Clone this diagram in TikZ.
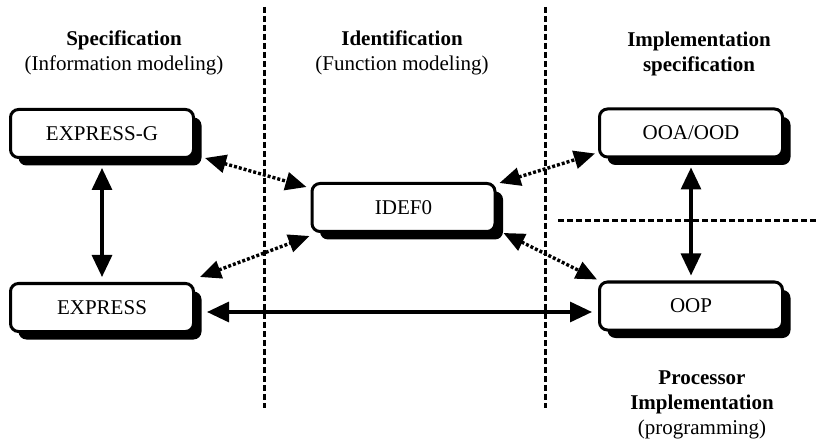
\documentclass[tikz,border=0pt]{standalone}
\usepackage{fontspec}
\setmainfont{Liberation Serif}
\usetikzlibrary{arrows.meta,shadows}
\begin{document}
\begin{tikzpicture}[x=1pt,y=-1pt,
  box/.style={draw, line width=3pt, rounded corners=8pt, fill=white,
    minimum width=183pt, minimum height=48pt, inner sep=0pt,
    font=\fontsize{21}{25}\selectfont,
    drop shadow={shadow xshift=8pt, shadow yshift=-8pt, opacity=1, fill=black}},
  head/.style={align=center, font=\fontsize{21}{25}\selectfont},
  divider/.style={line width=3pt, dash pattern=on 6pt off 3pt},
  link/.style={line width=3.2pt,
    {Triangle[length=22pt,width=20pt]}-{Triangle[length=22pt,width=20pt]}},
  assoc/.style={line width=3.4pt, dash pattern=on 3pt off 2pt,
    {Triangle[length=21pt,width=18pt]}-{Triangle[length=21pt,width=18pt]}},
]
\useasboundingbox (0,0) rectangle (818,443);

% column dividers
\coordinate (d1t) at (264,7);   \coordinate (d1b) at (264,408);
\coordinate (d2t) at (545,7);   \coordinate (d2b) at (545,408);
\coordinate (d3l) at (558,221); \coordinate (d3r) at (818,221);
\draw[divider] (d1t) -- (d1b);
\draw[divider] (d2t) -- (d2b);
\draw[divider] (d3l) -- (d3r);

% column headings
\node[head] (hspec) at (124,52.5) {\textbf{Specification}\\(Information modeling)};
\node[head] (hident) at (402,52.5) {\textbf{Identification}\\(Function modeling)};
\node[head] (himpl) at (699,54) {\textbf{Implementation}\\\textbf{specification}};
\node[head] (hproc) at (702,405) {\textbf{Processor}\\\textbf{Implementation}\\(programming)};

% models
\node[box] (eg) at (102,133.5) {EXPRESS-G};
\node[box] (ex) at (102,307.5) {EXPRESS};
\node[box] (idef) at (403.5,207.5) {IDEF0};
\node[box] (ooa) at (691,133) {OOA/OOD};
\node[box] (oop) at (691,306) {OOP};

% direct mappings
\draw[link] ([yshift=-9pt]eg.south) -- ([yshift=5pt]ex.north);
\draw[link] ([yshift=-9pt]ooa.south) -- ([yshift=5pt]oop.north);
\draw[link] ([shift={(12,4.5)}]ex.east) -- ([shift={(-6,6)}]oop.west);

% mappings through IDEF0
\draw[assoc] ([shift={(10,-1)}]eg.south east) -- ([shift={(-4,5)}]idef.north west);
\draw[assoc] ([shift={(5,-5)}]ex.north east) -- ([shift={(-1,3)}]idef.south west);
\draw[assoc] ([shift={(3,1)}]idef.north east) -- ([shift={(-3,-5)}]ooa.south west);
\draw[assoc] ([shift={(7,0)}]idef.south east) -- ([shift={(-1,-1)}]oop.north west);
\end{tikzpicture}
\end{document}
